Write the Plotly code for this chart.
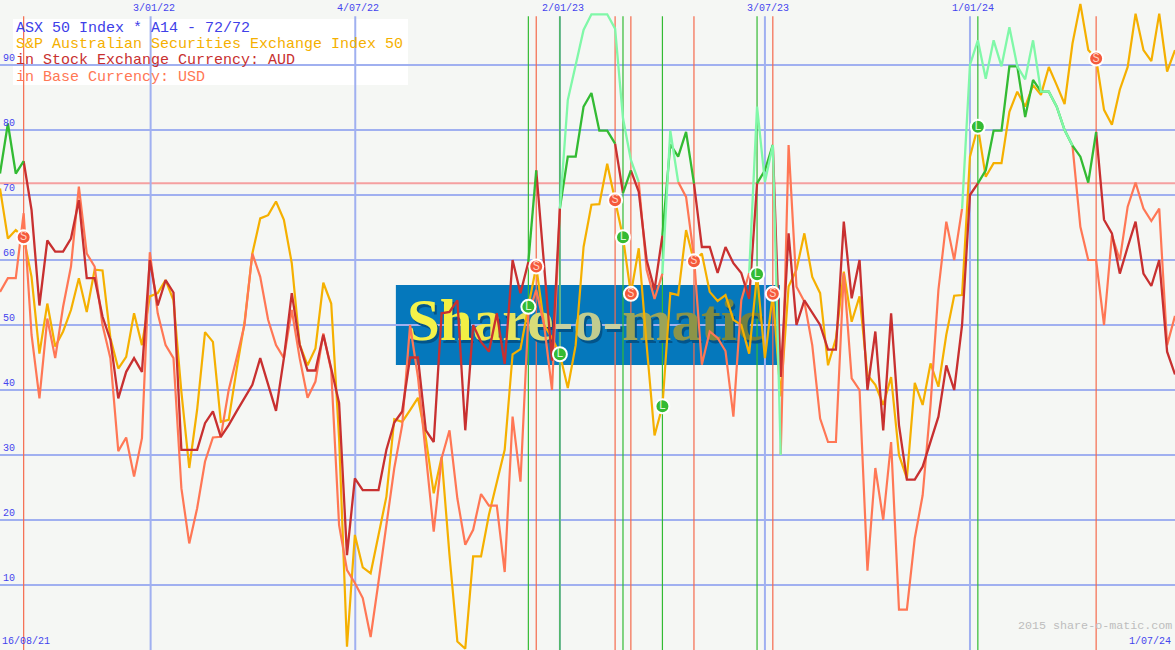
import plotly.graph_objects as go

# Weekly index positions; x axis runs over point indices 0..149
index_vals = [19.1, 45.05, 71, 97, 123]
index_labels = ["3/01/22", "4/07/22", "2/01/23", "3/07/23", "1/01/24"]
first_label = "16/08/21"
last_label = "1/07/24"
y_ticks = [10, 20, 30, 40, 50, 60, 70, 80, 90]
threshold = 71.8

stock_aud = [
    73.3, 81, 73.3, 75.2, 67.7, 53, 63, 61.3, 61.3, 63.3,
    69.2, 57.2, 57.2, 51.3, 47.7, 38.7, 42.8, 44.9, 42.8, 60,
    53, 56.9, 55, 30.8, 30.8, 30.8, 34.9, 36.7, 32.8, 34.6,
    36.7, 38.7, 40.8, 44.9, 40.8, 36.8, 44.9, 54.9, 47, 43,
    43, 48.5, 43.3, 38, 14.6, 26.4, 24.6, 24.6, 24.6, 30.8,
    35, 36.7, 45, 45, 33.8, 32, 51.8, 52, 53.8, 33.8,
    50, 47.4, 45.9, 51.8, 44, 60, 54.9, 59.7, 73.8, 59,
    44.5, 68, 75.9, 75.9, 83.6, 85.7, 79.9, 79.9, 77.9, 70.3,
    73.8, 70.5, 60, 55.4, 63.8, 77.8, 75.9, 79.7, 71.8, 62,
    62, 58, 62, 59.5, 58, 54, 71.8, 73.8, 77.7, 42,
    64.1, 50, 53.8, 52, 50, 46.2, 46.2, 65.9, 54.1, 60,
    40, 49, 33.8, 51.8, 34.6, 26.2, 26.2, 28.2, 32, 35.9,
    43.8, 40, 50, 70, 71.8, 73.8, 79.9, 79.9, 89.8, 89.8,
    82, 87.7, 85.9, 85.9, 83.6, 80, 77.6, 75.9, 71.9, 79.7,
    66.2, 64.1, 57.9, 62, 65.9, 57.9, 56, 60, 45.9, 42.4,
]
index_series = [
    71, 63.3, 64.6, 63.5, 57.4, 45.6, 53.3, 46.7, 49, 52.3,
    57.2, 52, 58.5, 58.4, 48, 43.3, 45.1, 51.8, 46.9, 54.4,
    54.9, 56.9, 53.8, 39.7, 28, 37, 48.9, 47.4, 35.1, 35.4,
    43.1, 50.3, 61, 66.4, 66.9, 69, 66.2, 59.5, 47, 43.8,
    46.4, 56.5, 53.3, 32.6, 0.5, 17.7, 12.7, 11.8, 17.7, 23.6,
    35.5, 35.1, 36.9, 38.8, 32.6, 24.1, 29.7, 14.6, 1.3, 0.2,
    14.4, 14.4, 20.8, 25.9, 30.8, 45.5, 46.3, 52.8, 59, 50,
    48, 45.5, 40.3, 46.9, 62, 68.5, 68.6, 74.8, 69.2, 63.5,
    54.8, 61.8, 46.9, 33, 37.5, 54.9, 54.6, 64.6, 59.8, 61,
    55.1, 53.7, 54.6, 50.8, 50, 45.6, 57.8, 44.9, 54.8, 39,
    55.9, 58.5, 64.1, 57.4, 54.9, 43.8, 47.9, 58.2, 50.5, 54.4,
    42.3, 40.8, 37.7, 42, 30, 26.4, 41.1, 37.7, 44.1, 40.5,
    48.5, 54.5, 54.6, 75.9, 80.5, 72.8, 74.9, 74.9, 82.8, 85.9,
    83.6, 86.9, 85.4, 89.7, 86.9, 84, 93.3, 99.4, 92.3, 91,
    83.1, 80.8, 86.2, 89.7, 97.9, 92.3, 90.6, 97.9, 89, 92.3,
]
base_usd = [
    55.1, 57.2, 57.2, 67.2, 48.5, 38.7, 51, 44.9, 52.8, 59,
    71.3, 61, 59, 50, 44.9, 30.6, 32.7, 26.7, 32.6, 61.2,
    51.8, 46.9, 44.9, 24.9, 16.4, 21.8, 29, 32.7, 32.8, 40,
    44.9, 50, 61, 57.4, 50.8, 46.9, 44.9, 52.3, 44.9, 38.8,
    41.3, 48.7, 43, 19.2, 12.3, 10.3, 8, 2, 10.5, 19.2,
    28, 34.6, 50, 42, 29.5, 18.2, 29.5, 33.8, 23.3, 16.2,
    18.5, 24, 22.2, 22.2, 12, 35.9, 25.9, 51.5, 55.4, 50,
    40, 67.9, 84.6, 90, 95.4, 97.8, 97.8, 97.8, 95.6, 81.8,
    75.4, 72, 58.5, 54, 57.9, 79.9, 72, 69.7, 60.5, 43.9,
    49, 48, 46, 35.9, 53.8, 58, 83.6, 72, 77.7, 30,
    77.7, 55.9, 53.6, 46.9, 35.6, 32, 32, 58, 41.8, 40,
    12.2, 28, 20, 32, 6.2, 6.2, 17.2, 23.8, 37.7, 55.4,
    65.9, 60, 67.9, 90, 93.8, 87.9, 93.8, 89.8, 95.8, 89.8,
    87.8, 93.8, 85.9, 85.9, 83.6, 80, 77.6, 65.1, 60, 60,
    50, 63.8, 60, 68.2, 71.9, 67.9, 66, 67.9, 46.9, 51.4,
]

long_signals = [67, 71, 79, 84, 96, 124]
sell_signals = [3, 68, 78, 80, 88, 98, 139]
stock_long_spans = [(0, 3), (67, 68), (71, 78), (79, 80), (84, 88), (96, 98), (124, 139)]
base_long_spans = [(71, 81), (84, 86), (95, 99), (122, 136)]

legend_lines = [
    ("ASX 50 Index * A14 - 72/72", "#4040E8"),
    ("S&P Australian Securities Exchange Index 50", "#F5B000"),
    ("in Stock Exchange Currency: AUD", "#C83030"),
    ("in Base Currency: USD", "#FF7755"),
]
logo_text = "Share-o-matic"
logo_colors = ["#F4F24A", "#F2F044", "#EEEA50", "#E4E460", "#D8DC78", "#C8D0A0", "#C0CC90",
               "#C8D0A0", "#9CA458", "#8C9448", "#808A40", "#788840", "#708040"]
watermark = "2015 share-o-matic.com"

BLUE = "#A0B0F0"
LABEL = "#4444EE"
FONT = "Liberation Mono"


def split_runs(values, spans, inside):
    """x/y with breaks, holding only the segments inside (or outside) the spans."""
    xs, ys = [], []
    for k in range(len(values) - 1):
        is_in = any(a <= k < b for a, b in spans)
        if is_in == inside:
            if xs and xs[-1] == k:
                pass
            else:
                if xs:
                    xs.append(None)
                    ys.append(None)
                xs.append(k)
                ys.append(values[k])
            xs.append(k + 1)
            ys.append(values[k + 1])
    return xs, ys


def line(xs, ys, color, width, name):
    return go.Scatter(x=xs, y=ys, mode="lines", name=name,
                      line=dict(color=color, width=width, shape="linear"),
                      connectgaps=False, hoverinfo="skip")


fig = go.Figure()

# Logo wordmark sits behind the data
logo_html = "".join(f'<span style="color:{c}">{ch}</span>' for ch, c in zip(logo_text, logo_colors))
fig.add_trace(go.Scatter(x=[74.45], y=[49.5], mode="text", text=[logo_text],
                         textfont=dict(family="Liberation Serif", size=59, color="#03548A", weight="bold"),
                         hoverinfo="skip"))
fig.add_trace(go.Scatter(x=[74.2], y=[49.9], mode="text", text=[logo_html],
                         textfont=dict(family="Liberation Serif", size=59, color="#F2F044", weight="bold"),
                         hoverinfo="skip"))

fig.add_trace(line(list(range(len(index_series))), index_series, "#F5B000", 2.2, "Index"))
fig.add_trace(line(*split_runs(base_usd, base_long_spans, False), "#FF7755", 2.2, "USD"))
fig.add_trace(line(*split_runs(stock_aud, stock_long_spans, False), "#C83030", 2.3, "AUD"))
fig.add_trace(line(*split_runs(stock_aud, stock_long_spans, True), "#33BB33", 2.3, "AUD long"))
fig.add_trace(line(*split_runs(base_usd, base_long_spans, True), "#80F8A8", 2.3, "USD long"))

fig.add_trace(go.Scatter(
    x=sell_signals, y=[index_series[i] for i in sell_signals], mode="markers+text",
    text=["S"] * len(sell_signals), textposition="middle center",
    textfont=dict(family=FONT, size=12, color="#FFD0C0"),
    marker=dict(size=14, color="#F55A3C", line=dict(color="white", width=2)),
    hoverinfo="skip"))
fig.add_trace(go.Scatter(
    x=long_signals, y=[index_series[i] for i in long_signals], mode="markers+text",
    text=["L"] * len(long_signals), textposition="middle center",
    textfont=dict(family=FONT, size=12, color="#D8F8D8"),
    marker=dict(size=14, color="#33BB33", line=dict(color="white", width=2)),
    hoverinfo="skip"))

shapes = [dict(type="rect", layer="below", xref="x", yref="y",
               x0=50.2, x1=98.9, y0=43.85, y1=56.15,
               fillcolor="#0578BC", line=dict(width=0))]
for v in index_vals:
    shapes.append(dict(type="line", layer="below", xref="x", yref="y", x0=v, x1=v,
                       y0=0, y1=97.5, line=dict(color=BLUE, width=2)))
shapes.append(dict(type="line", layer="between", xref="paper", yref="y", x0=0, x1=1,
                   y0=threshold, y1=threshold, line=dict(color="#F5A0A0", width=2)))
for i in sell_signals:
    shapes.append(dict(type="line", layer="between", xref="x", yref="y", x0=i, x1=i,
                       y0=0, y1=97.5, line=dict(color="#F56A4C", width=1.2)))
for i in long_signals:
    shapes.append(dict(type="line", layer="between", xref="x", yref="y", x0=i, x1=i,
                       y0=0, y1=97.5, line=dict(color="#33BB33", width=1.2)))
shapes.append(dict(type="rect", layer="between", xref="paper", yref="paper",
                   x0=13 / 1175, x1=408 / 1175, y0=1 - 85 / 650, y1=1 - 19 / 650,
                   fillcolor="white", line=dict(width=0)))

annotations = []
for v, t in zip(y_ticks, y_ticks):
    annotations.append(dict(xref="paper", yref="y", x=0, y=v, text=str(t), showarrow=False,
                            xanchor="left", yanchor="middle", xshift=1, yshift=7,
                            font=dict(family=FONT, size=10, color=LABEL)))
for v, t in zip(index_vals, index_labels):
    annotations.append(dict(xref="x", yref="paper", x=v, y=1, text=t, showarrow=False,
                            xanchor="center", yanchor="top", xshift=3, yshift=-1,
                            font=dict(family=FONT, size=10, color=LABEL)))
annotations.append(dict(xref="paper", yref="paper", x=0, y=0, text=first_label, showarrow=False,
                        xanchor="left", yanchor="bottom", xshift=0, yshift=1,
                        font=dict(family=FONT, size=10, color=LABEL)))
annotations.append(dict(xref="paper", yref="paper", x=1, y=0, text=last_label, showarrow=False,
                        xanchor="right", yanchor="bottom", xshift=-2, yshift=1,
                        font=dict(family=FONT, size=10, color=LABEL)))
annotations.append(dict(xref="paper", yref="paper", x=1, y=0, text=watermark, showarrow=False,
                        xanchor="right", yanchor="bottom", xshift=-1, yshift=15,
                        font=dict(family=FONT, size=11.7, color="#BDBDBD")))
for row, (txt, col) in enumerate(legend_lines):
    annotations.append(dict(xref="paper", yref="paper", x=15 / 1175, y=1 - (29 + 16 * row) / 650,
                            text=txt, showarrow=False, xanchor="left", yanchor="middle",
                            xshift=-1, font=dict(family=FONT, size=15, color=col)))

fig.update_layout(
    width=1175, height=650, autosize=False, showlegend=False,
    margin=dict(l=0, r=0, t=0, b=0, pad=0),
    paper_bgcolor="#F5F7F4", plot_bgcolor="#F5F7F4",
    shapes=shapes, annotations=annotations,
    xaxis=dict(range=[0, 149], showgrid=False, zeroline=False, showticklabels=False,
               ticks="", showline=False, fixedrange=True),
    yaxis=dict(range=[0, 100], tickvals=y_ticks, showgrid=True, gridcolor=BLUE, gridwidth=2,
               zeroline=False, showticklabels=False, ticks="", showline=False, fixedrange=True),
)
fig.write_html("out.html", config={"displayModeBar": False},
               post_script="document.body.style.margin='0';document.documentElement.style.overflow='hidden';")
